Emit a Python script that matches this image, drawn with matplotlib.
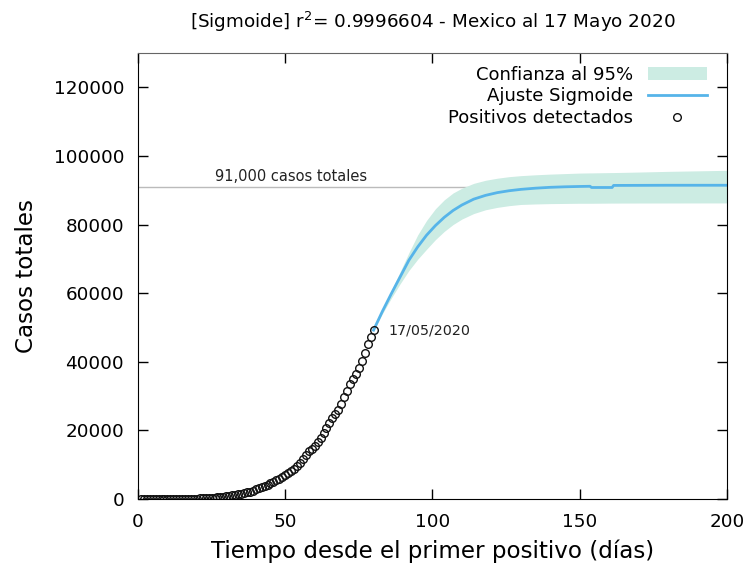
import matplotlib.pyplot as plt
import numpy as np

# casos confirmados acumulados en Mexico, 28 feb - 17 may 2020 (dia 1..80)
casos = [1, 4, 5, 5, 5, 5, 5, 6, 6, 7, 7, 7, 8, 12, 26, 41, 53, 82, 93, 118,
         164, 203, 251, 316, 367, 405, 475, 585, 717, 848, 993, 1094, 1215,
         1378, 1510, 1688, 1890, 2143, 2439, 2785, 3181, 3441, 3844, 4219,
         4661, 5014, 5399, 5847, 6297, 6875, 7497, 8261, 8772, 9501, 10544,
         11633, 12872, 13842, 14677, 15529, 16752, 17799, 19224, 20739, 22088,
         23471, 24905, 26025, 27634, 29616, 31522, 33460, 35022, 36327, 38324,
         40186, 42595, 45032, 47144, 49219]
dias = np.arange(1, len(casos) + 1)

# ajuste sigmoide y banda de confianza al 95%
t_fit = [80, 83, 86, 89, 92, 95, 98, 101, 104, 107, 110, 114, 118, 122, 126,
         130, 135, 140, 145, 150, 153.5, 154, 161, 161.5, 170, 180, 190, 200]
y_fit = [49219, 54700, 59800, 64700, 69600, 73500, 76900, 79700, 82100, 84100,
         85700, 87400, 88500, 89300, 89850, 90250, 90600, 90850, 91000, 91100,
         91150, 90800, 90800, 91400, 91420, 91450, 91450, 91450]
y_sup = [49350, 55200, 60700, 66200, 71800, 77000, 81200, 84600, 87200, 89200,
         90600, 92000, 92900, 93500, 93950, 94250, 94500, 94700, 94850, 95000,
         95050, 95050, 95150, 95150, 95300, 95500, 95650, 95800]
y_inf = [49100, 54000, 58500, 62700, 66600, 69900, 72800, 75600, 78000, 80000,
         81600, 83200, 84300, 85000, 85500, 85850, 86000, 86100, 86150, 86200,
         86200, 86200, 86250, 86250, 86270, 86280, 86290, 86300]

total = 91000
r2 = 0.9996604

plt.rcParams['font.family'] = 'DejaVu Sans'

fig = plt.figure(figsize=(7.49, 5.70), dpi=100)
ax = fig.add_axes([0.1842, 0.1246, 0.7864, 0.7824])

ax.fill_between(t_fit, y_inf, y_sup, color='#ccece3', lw=0,
                label='Confianza al 95%')
ax.plot(t_fit, y_fit, color='#56b4e9', lw=2, label='Ajuste Sigmoide')
ax.plot(dias, casos, 'o', mfc='none', mec='#111111', ms=5.5, mew=1,
        label='Positivos detectados')

ax.axhline(total, color='#bbbbbb', lw=1, zorder=0)
ax.text(52, total + 800, '91,000 casos totales', fontsize=10.5,
        ha='center', va='bottom', color='#222222')
ax.text(85, casos[-1], '17/05/2020', fontsize=10.3, va='center',
        color='#222222')

ax.set_xlim(0, 200)
ax.set_ylim(0, 130000)
ax.set_xticks([0, 50, 100, 150, 200])
ax.set_yticks(np.arange(0, 120001, 20000))
ax.tick_params(direction='in', length=7, width=1, labelsize=13.2,
               top=True, right=True, pad=10)
ax.spines['top'].set_color('#666666')

ax.set_xlabel('Tiempo desde el primer positivo (días)', fontsize=16.6,
              labelpad=6)
ax.set_ylabel('Casos totales', fontsize=16.6, labelpad=11)
ax.set_title('[Sigmoide] r$^2$= %.7f - Mexico al 17 Mayo 2020' % r2,
             fontsize=13.2, pad=18)

ax.legend(loc='upper right', frameon=False, markerfirst=False, fontsize=13,
          handlelength=3.3, labelspacing=0.2, borderaxespad=0.3,
          bbox_to_anchor=(0.988, 1.0))

fig.savefig('out.png', dpi=100)
